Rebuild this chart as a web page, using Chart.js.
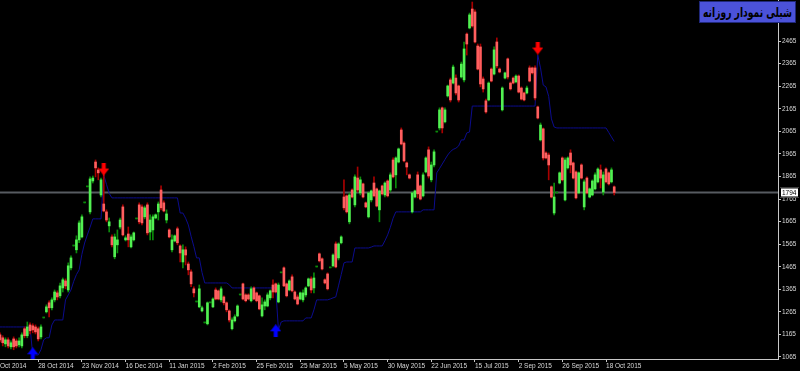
<!DOCTYPE html>
<html><head><meta charset="utf-8">
<script src="https://cdn.jsdelivr.net/npm/chart.js@4.4.0/dist/chart.umd.min.js"></script>
<style>
html,body{margin:0;padding:0;background:#000;}
#wrap{position:relative;width:800px;height:371px;background:#000;}
#title{position:absolute;left:699px;top:1px;width:97px;height:22px;background:#4b52d9;border:1px solid #20287a;box-sizing:border-box;overflow:hidden;text-align:center;}
#title span{display:inline-block;color:#000;font:bold 13.5px "DejaVu Sans",sans-serif;direction:rtl;white-space:nowrap;line-height:20px;transform:scaleX(0.68);transform-origin:center center;margin:0 -30px;}
</style></head><body>
<div id="wrap"><canvas id="c"></canvas><div id="title"><span>شبلی نمودار روزانه</span></div></div>
<script>
const open=[1163,1150,1123,1141,1110,1145,1136,1119,1114,1190,1159,1207,1203,1198,1190,1154,1238,1265,1305,1283,
1318,1349,1336,1371,1402,1362,1460,1557,1540,1584,1597,1748,1819,1708,1845,1929,1894,1783,1743,1708,
1646,1597,1509,1562,1641,1730,1584,1610,1553,1584,1677,1739,1730,1686,1739,1619,1628,1681,1708,1805,
1748,1672,1628,1540,1579,1633,1557,1486,1540,1477,1442,1367,1309,1287,1269,1216,1212,1305,1287,1362,
1358,1318,1331,1305,1269,1190,1225,1247,1340,1389,1340,1340,1314,1371,1349,1336,1247,1291,1291,1327,
1384,1389,1309,1438,1460,1389,1362,1420,1353,1331,1322,1318,1340,1380,1411,1371,1464,1522,1500,1407,
1433,1460,1469,1566,1504,1571,1774,1779,1664,1805,1739,1858,1792,1832,1748,1686,1761,1836,1810,1717,
1823,1783,1845,1805,1938,1872,1929,2071,2013,1925,1872,1708,1774,1872,1823,1779,1885,1983,1850,1916,
2062,2080,2169,2107,2222,2293,2279,2301,2266,2306,2293,2496,2523,2607,2594,2443,2439,2297,2200,2204,
2341,2319,2461,2341,2160,2301,2386,2279,2301,2284,2310,2257,2235,2235,2346,2346,2346,2173,2027,2076,
1969,1960,1819,1703,1792,1836,1947,1761,1903,1969,1925,1885,1792,1916,1730,1858,1774,1783,1810,1841,
1894,1796,1898,1881,1841,1819];
const high=[1172,1159,1150,1150,1136,1154,1145,1150,1172,1198,1220,1216,1212,1207,1198,1207,1238,1296,1314,1327,
1362,1358,1393,1415,1411,1482,1513,1557,1602,1668,1695,1748,1819,1863,1867,1938,1903,1858,1885,1717,
1681,1606,1610,1628,1681,1739,1602,1641,1606,1619,1677,1748,1739,1734,1748,1695,1695,1699,1752,1823,
1757,1717,1633,1606,1606,1641,1562,1562,1553,1486,1451,1376,1309,1384,1291,1216,1309,1305,1327,1371,
1362,1376,1336,1309,1274,1238,1252,1296,1340,1393,1345,1345,1376,1376,1353,1340,1327,1318,1349,1362,
1407,1393,1393,1438,1464,1393,1407,1429,1358,1340,1353,1362,1376,1415,1420,1438,1464,1526,1504,1411,
1438,1460,1522,1575,1571,1602,1850,1783,1792,1810,1872,1907,1863,1836,1752,1796,1805,1863,1814,1805,
1827,1841,1850,1881,1947,1952,1991,2080,2018,1929,1876,1796,1805,1885,1827,1881,1952,1996,1929,1983,
2062,2169,2173,2169,2270,2301,2359,2315,2270,2372,2461,2501,2589,2638,2603,2452,2452,2306,2208,2284,
2346,2439,2479,2346,2262,2328,2390,2284,2306,2315,2315,2262,2239,2266,2355,2350,2355,2177,2102,2080,
1974,1969,1823,1836,1792,1885,1952,1947,1952,1983,1929,1890,1885,1921,1850,1863,1814,1850,1881,1903,
1916,1885,1903,1885,1903,1823];
const low=[1132,1114,1110,1105,1101,1097,1105,1110,1105,1150,1150,1167,1172,1167,1136,1145,1238,1260,1243,1274,
1309,1318,1327,1353,1367,1353,1451,1557,1526,1571,1593,1748,1819,1699,1836,1863,1850,1774,1708,1664,
1619,1553,1500,1526,1633,1602,1579,1553,1548,1579,1677,1655,1650,1677,1606,1584,1584,1677,1672,1717,
1708,1659,1593,1531,1575,1562,1486,1460,1473,1429,1376,1331,1309,1283,1265,1216,1207,1305,1283,1318,
1318,1309,1296,1265,1220,1185,1220,1243,1340,1318,1309,1318,1309,1318,1309,1274,1243,1274,1287,1318,
1327,1349,1305,1438,1376,1331,1358,1353,1318,1296,1318,1309,1331,1376,1349,1349,1464,1486,1451,1389,
1362,1460,1464,1460,1495,1566,1717,1703,1655,1770,1730,1796,1783,1770,1726,1681,1752,1774,1730,1664,
1783,1774,1774,1796,1858,1814,1925,2005,1929,1872,1854,1703,1770,1770,1761,1774,1881,1858,1841,1907,
2062,2071,2058,2102,2217,2195,2275,2226,2195,2301,2284,2403,2519,2527,2457,2337,2262,2239,2146,2200,
2284,2315,2346,2324,2155,2297,2297,2248,2275,2279,2235,2204,2200,2231,2284,2319,2204,2120,2022,1938,
1943,1850,1770,1695,1792,1832,1845,1757,1898,1881,1854,1765,1788,1854,1717,1788,1770,1779,1805,1836,
1814,1783,1836,1827,1836,1783];
const close=[1141,1128,1141,1114,1128,1110,1114,1136,1163,1159,1198,1181,1185,1176,1145,1198,1238,1287,1283,1318,
1353,1331,1380,1407,1380,1469,1504,1557,1584,1659,1686,1748,1819,1854,1858,1903,1881,1850,1712,1672,
1664,1562,1597,1584,1672,1606,1593,1584,1597,1615,1677,1664,1659,1726,1615,1672,1686,1695,1743,1726,
1712,1699,1597,1584,1602,1571,1526,1540,1517,1451,1389,1349,1309,1367,1283,1216,1305,1305,1322,1322,
1322,1367,1305,1274,1229,1229,1243,1291,1340,1322,1314,1322,1367,1322,1314,1278,1296,1309,1340,1358,
1353,1353,1384,1438,1380,1336,1402,1358,1322,1300,1349,1349,1371,1411,1362,1415,1464,1491,1455,1393,
1367,1460,1517,1464,1566,1597,1726,1708,1783,1774,1863,1805,1850,1774,1730,1792,1801,1779,1734,1801,
1788,1836,1779,1872,1863,1947,1987,2009,1934,1907,1858,1792,1801,1788,1765,1872,1947,1867,1916,1974,
2062,2160,2080,2160,2266,2204,2350,2235,2204,2363,2430,2452,2581,2532,2461,2341,2275,2253,2151,2279,
2288,2426,2355,2328,2257,2324,2306,2253,2279,2310,2239,2208,2204,2257,2288,2324,2213,2124,2093,1947,
1947,1916,1774,1774,1792,1881,1850,1938,1947,1916,1858,1770,1881,1858,1841,1792,1810,1845,1872,1898,
1858,1872,1841,1832,1894,1794];
const trail=[1198,1198,1198,1198,1198,1198,1198,1198,1198,1198,1198,1198,
1074,1074,1074,1097,1141,1150,1150,1207,1229,1229,
1229,1229,1318,1340,1362,1400,1430,1451,1520,1570,
1606,1640,1677,1677,1677,1677,1872,1830,1790,1770,
1770,1770,1770,1770,1770,1770,1770,1770,1770,1770,
1770,1770,1770,1770,1770,1770,1770,1770,1770,1770,
1770,1770,1770,1770,1703,1703,1680,1650,1600,1555,
1504,1504,1440,1393,1393,1393,1393,1393,1393,1393,
1393,1393,1385,1371,1371,1371,1371,1371,1371,1371,
1371,1371,1371,1371,1371,1371,1371,1371,1371,1371,
1185,1220,1225,1225,1225,1225,1225,1225,1225,1225,
1238,1238,1238,1274,1318,1318,1318,1318,1318,1322,
1327,1331,1380,1430,1482,1486,1486,1486,1548,1548,
1548,1548,1548,1548,1552,1557,1557,1557,1557,1580,
1606,1640,1680,1708,1708,1708,1708,1708,1708,1708,
1708,1708,1708,1717,1717,1717,1717,1717,1881,1900,
1920,1940,1960,1975,1985,1990,2000,2027,2027,2058,
2062,2177,2177,2177,2177,2177,2177,2177,2177,2177,
2177,2177,2177,2177,2177,2177,2177,2177,2177,2177,
2177,2177,2177,2177,2177,2403,2346,2270,2262,2220,
2120,2084,2080,2080,2080,2080,2080,2080,2080,2080,
2080,2080,2080,2080,2080,2080,2080,2080,2080,2080,
2080,2060,2040,2020];
const sellIdx=[38,197], sellVal=[1898,2434];
const buyIdx=[12,101], buyVal=[1079,1181];
const priceLine=1794;
const yTicks=[1065,1165,1265,1365,1465,1565,1665,1765,1865,1965,2065,2165,2265,2365,2465];
const xTickIdx=[0,14,30,46,62,78,94,110,126,142,158,174,190,206,222];
const xTickLbl=['Oct 2014','28 Oct 2014','23 Nov 2014','16 Dec 2014','11 Jan 2015','2 Feb 2015','25 Feb 2015','25 Mar 2015','5 May 2015','30 May 2015','22 Jun 2015','15 Jul 2015','2 Sep 2015','26 Sep 2015','18 Oct 2015'];

const idx=open.map((_,i)=>i);
const isUp=idx.map(i=>close[i]>=open[i]);
const isDoji=idx.map(i=>close[i]===open[i]);
const wickData=idx.map(i=>({x:i,y:[low[i],high[i]]}));
const bodyData=idx.map(i=>({x:i,y:[Math.min(open[i],close[i]),Math.max(open[i],close[i])]}));

function arrow(color,down){
  const c=document.createElement('canvas');c.width=11;c.height=13;
  const g=c.getContext('2d');g.fillStyle=color;g.beginPath();
  if(down){g.moveTo(3.5,0);g.lineTo(7.5,0);g.lineTo(7.5,6);g.lineTo(11,6);g.lineTo(5.5,13);g.lineTo(0,6);g.lineTo(3.5,6);}
  else{g.moveTo(5.5,0);g.lineTo(11,7);g.lineTo(7.5,7);g.lineTo(7.5,13);g.lineTo(3.5,13);g.lineTo(3.5,7);g.lineTo(0,7);}
  g.closePath();g.fill();return c;
}

const priceTag={id:'priceTag',afterDraw(chart){
  const ys=chart.scales.y, x0=chart.chartArea.right;
  const y=ys.getPixelForValue(priceLine);
  const g=chart.ctx;g.save();
  g.fillStyle='#ffffff';g.fillRect(x0+2,y-5,19,10);
  g.strokeStyle='#000';g.lineWidth=1;g.strokeRect(x0+2.5,y-4.5,18,9);
  g.fillStyle='#000';g.font='6.5px "Liberation Sans"';g.textBaseline='middle';g.textAlign='left';
  g.fillText(String(priceLine),x0+4,y+0.5);g.restore();
}};

new Chart(document.getElementById('c'),{
  type:'bar',
  data:{datasets:[
    {type:'line',data:[{x:0,y:priceLine},{x:285,y:priceLine}],borderColor:'#575b61',borderWidth:2,pointRadius:0,order:6},
    {type:'line',data:idx.map(i=>({x:i,y:trail[i]})),borderColor:'#0c0c8e',borderWidth:1,pointRadius:0,tension:0,order:5},
    {type:'bar',data:wickData,backgroundColor:idx.map(i=>isUp[i]?'#0b8c0b':'#a80000'),barThickness:1,grouped:false,order:4},
    {type:'bar',data:bodyData,backgroundColor:idx.map(i=>isDoji[i]?'#0a8a0a':(isUp[i]?'#52f052':'#ff5e5e')),barThickness:2,grouped:false,minBarLength:1,order:3},
    {type:'line',data:sellIdx.map((v,k)=>({x:v,y:sellVal[k]})),showLine:false,pointStyle:arrow('#ff0000',true),pointRadius:6,pointHoverRadius:6,order:1},
    {type:'line',data:buyIdx.map((v,k)=>({x:v,y:buyVal[k]})),showLine:false,pointStyle:arrow('#0000ff',false),pointRadius:6,pointHoverRadius:6,order:1}
  ]},
  options:{
    responsive:true,maintainAspectRatio:false,animation:false,
    layout:{padding:0,autoPadding:false},
    plugins:{legend:{display:false},tooltip:{enabled:false}},
    scales:{
      x:{type:'linear',min:0,max:285,offset:false,position:'bottom',
        afterBuildTicks:s=>{s.ticks=xTickIdx.map(v=>({value:v}));},
        afterFit:s=>{s.height=12;s.paddingLeft=0;s.paddingRight=0;},
        border:{color:'#c8c8c8',width:1},
        grid:{offset:false,drawOnChartArea:false,drawTicks:true,tickLength:3,color:c=>c.index===0?'rgba(0,0,0,0)':'#c8c8c8'},
        ticks:{autoSkip:false,maxRotation:0,minRotation:0,align:'start',padding:0,color:'#d8d8d8',font:{family:'Liberation Sans',size:6.5},callback:(v,i)=>xTickLbl[i]}
      },
      y:{type:'linear',position:'right',min:1056,max:2647,beginAtZero:false,
        afterBuildTicks:s=>{s.ticks=yTicks.map(v=>({value:v}));},
        afterFit:s=>{s.width=22;s.paddingTop=0;s.paddingBottom=0;},
        border:{color:'#c8c8c8',width:1},
        grid:{drawOnChartArea:false,drawTicks:true,tickLength:3,color:'#c8c8c8'},
        ticks:{padding:1,color:'#d8d8d8',font:{family:'Liberation Sans',size:6.5},callback:v=>String(v)}
      }
    }
  },
  plugins:[priceTag]
});
</script>
</body></html>
